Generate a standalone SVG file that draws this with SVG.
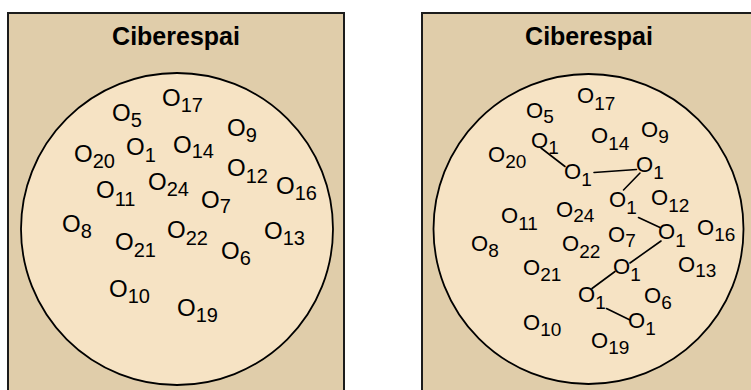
<svg xmlns="http://www.w3.org/2000/svg" width="751" height="390" viewBox="0 0 751 390">
  <style>
    .panel { fill: #E0CDAA; stroke: #1c1c1c; stroke-width: 2; }
    .space { fill: #F6E3C4; stroke: #000; stroke-width: 1.8; }
    .title { font-family: "Liberation Sans", Arial, sans-serif; font-weight: bold; font-size: 25px; fill: #000; text-anchor: middle; }
    .obj { font-family: "Liberation Sans", Arial, sans-serif; font-size: 24px; fill: #000; }
    .obj2 { font-family: "Liberation Sans", Arial, sans-serif; font-size: 22px; fill: #000; }
    .sub { font-size: 20px; }
    .sub2 { font-size: 19px; }
    .link { stroke: #000; stroke-width: 1.6; fill: none; stroke-linecap: round; }
  </style>

  <!-- Left panel: unordered objects -->
  <g id="panel-left">
    <rect class="panel" x="8" y="13" width="336" height="390"/>
    <text class="title" x="176" y="45">Ciberespai</text>
    <circle class="space" cx="177" cy="229" r="156"/>
  </g>
  <g id="objects-left">
    <g id="l-o5"><text class="obj" x="112" y="121">O<tspan class="sub" dy="6">5</tspan></text></g>
    <g id="l-o17"><text class="obj" x="162" y="106">O<tspan class="sub" dy="6">17</tspan></text></g>
    <g id="l-o9"><text class="obj" x="227" y="136">O<tspan class="sub" dy="6">9</tspan></text></g>
    <g id="l-o20"><text class="obj" x="74" y="162">O<tspan class="sub" dy="6">20</tspan></text></g>
    <g id="l-o1"><text class="obj" x="126" y="155">O<tspan class="sub" dy="7">1</tspan></text></g>
    <g id="l-o14"><text class="obj" x="173" y="153">O<tspan class="sub" dy="5">14</tspan></text></g>
    <g id="l-o12"><text class="obj" x="227" y="176">O<tspan class="sub" dy="7">12</tspan></text></g>
    <g id="l-o16"><text class="obj" x="276" y="194">O<tspan class="sub" dy="6">16</tspan></text></g>
    <g id="l-o11"><text class="obj" x="96" y="198">O<tspan class="sub" dy="8">11</tspan></text></g>
    <g id="l-o24"><text class="obj" x="148" y="190">O<tspan class="sub" dy="6">24</tspan></text></g>
    <g id="l-o7"><text class="obj" x="201" y="208">O<tspan class="sub" dy="5">7</tspan></text></g>
    <g id="l-o8"><text class="obj" x="62" y="232">O<tspan class="sub" dy="6">8</tspan></text></g>
    <g id="l-o22"><text class="obj" x="167" y="238">O<tspan class="sub" dy="7">22</tspan></text></g>
    <g id="l-o13"><text class="obj" x="264" y="239">O<tspan class="sub" dy="6">13</tspan></text></g>
    <g id="l-o21"><text class="obj" x="115" y="250">O<tspan class="sub" dy="7">21</tspan></text></g>
    <g id="l-o6"><text class="obj" x="221" y="259">O<tspan class="sub" dy="6">6</tspan></text></g>
    <g id="l-o10"><text class="obj" x="109" y="297">O<tspan class="sub" dy="6">10</tspan></text></g>
    <g id="l-o19"><text class="obj" x="177" y="316">O<tspan class="sub" dy="6">19</tspan></text></g>
  </g>

  <!-- Right panel: objects with a chain of O1 links -->
  <g id="panel-right">
    <rect class="panel" x="422" y="13" width="340" height="390"/>
    <text class="title" x="589" y="45">Ciberespai</text>
    <circle class="space" cx="588.5" cy="229" r="155"/>
  </g>
  <g id="connectors">
    <line class="link" x1="541" y1="148" x2="565" y2="166.5"/>
    <line class="link" x1="594" y1="172.5" x2="636.5" y2="169.5"/>
    <line class="link" x1="640" y1="173" x2="623.5" y2="190"/>
    <line class="link" x1="638.5" y1="217.5" x2="660" y2="227.5"/>
    <line class="link" x1="661" y1="241" x2="630" y2="263"/>
    <line class="link" x1="615" y1="271.5" x2="592" y2="288.5"/>
    <line class="link" x1="606.5" y1="308.5" x2="630" y2="320"/>
  </g>
  <g id="objects-right">
    <g id="r-o5"><text class="obj2" x="526" y="118">O<tspan class="sub2" dy="5">5</tspan></text></g>
    <g id="r-o17"><text class="obj2" x="577" y="103">O<tspan class="sub2" dy="7">17</tspan></text></g>
    <g id="r-o9"><text class="obj2" x="641" y="137">O<tspan class="sub2" dy="6">9</tspan></text></g>
    <g id="r-o14"><text class="obj2" x="591" y="143">O<tspan class="sub2" dy="7">14</tspan></text></g>
    <g id="r-o1a"><text class="obj2" x="531" y="148">O<tspan class="sub2" dy="6">1</tspan></text></g>
    <g id="r-o20"><text class="obj2" x="488" y="162">O<tspan class="sub2" dy="6">20</tspan></text></g>
    <g id="r-o1b"><text class="obj2" x="564" y="179">O<tspan class="sub2" dy="7">1</tspan></text></g>
    <g id="r-o1c"><text class="obj2" x="636" y="172">O<tspan class="sub2" dy="7">1</tspan></text></g>
    <g id="r-o1d"><text class="obj2" x="609" y="207">O<tspan class="sub2" dy="7">1</tspan></text></g>
    <g id="r-o12"><text class="obj2" x="651" y="205">O<tspan class="sub2" dy="7">12</tspan></text></g>
    <g id="r-o24"><text class="obj2" x="556" y="217">O<tspan class="sub2" dy="5">24</tspan></text></g>
    <g id="r-o11"><text class="obj2" x="501" y="223">O<tspan class="sub2" dy="7">11</tspan></text></g>
    <g id="r-o7"><text class="obj2" x="608" y="242">O<tspan class="sub2" dy="5">7</tspan></text></g>
    <g id="r-o1e"><text class="obj2" x="658" y="239">O<tspan class="sub2" dy="8">1</tspan></text></g>
    <g id="r-o16"><text class="obj2" x="697" y="235">O<tspan class="sub2" dy="6">16</tspan></text></g>
    <g id="r-o8"><text class="obj2" x="471" y="251">O<tspan class="sub2" dy="6">8</tspan></text></g>
    <g id="r-o22"><text class="obj2" x="562" y="251">O<tspan class="sub2" dy="7">22</tspan></text></g>
    <g id="r-o21"><text class="obj2" x="523" y="275">O<tspan class="sub2" dy="6">21</tspan></text></g>
    <g id="r-o1f"><text class="obj2" x="613" y="274">O<tspan class="sub2" dy="7">1</tspan></text></g>
    <g id="r-o13"><text class="obj2" x="678" y="272">O<tspan class="sub2" dy="5">13</tspan></text></g>
    <g id="r-o1g"><text class="obj2" x="578" y="302">O<tspan class="sub2" dy="7">1</tspan></text></g>
    <g id="r-o6"><text class="obj2" x="644" y="303">O<tspan class="sub2" dy="6">6</tspan></text></g>
    <g id="r-o1h"><text class="obj2" x="628" y="328">O<tspan class="sub2" dy="7">1</tspan></text></g>
    <g id="r-o10"><text class="obj2" x="523" y="330">O<tspan class="sub2" dy="6">10</tspan></text></g>
    <g id="r-o19"><text class="obj2" x="591" y="348">O<tspan class="sub2" dy="6">19</tspan></text></g>
  </g>
</svg>
